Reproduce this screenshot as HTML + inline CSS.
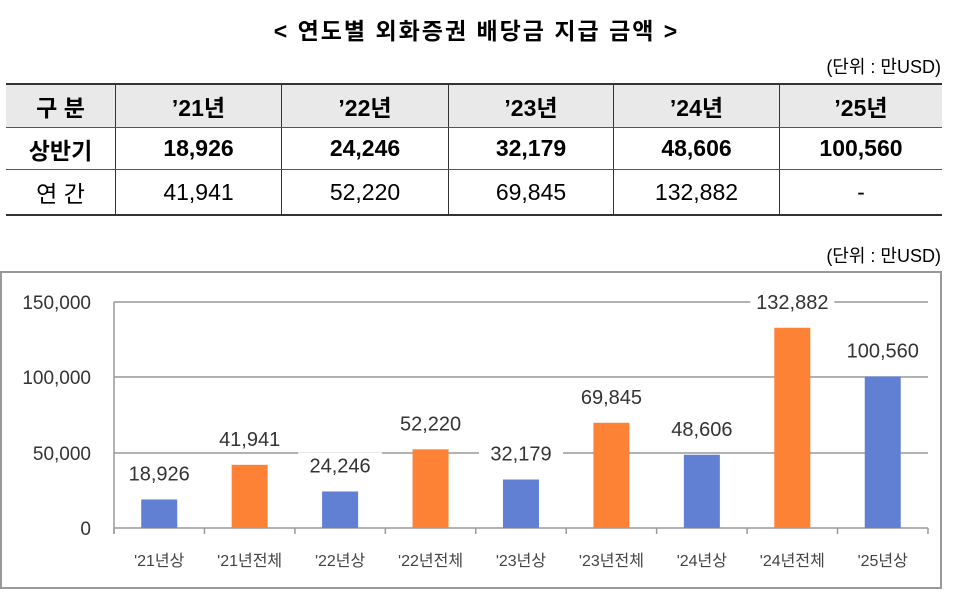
<!DOCTYPE html>
<html><head><meta charset="utf-8"><style>
body{margin:0;width:953px;height:600px;background:#fff;font-family:"Liberation Sans","Noto Sans CJK KR",sans-serif;position:relative;overflow:hidden}
.t{position:absolute;left:0;width:953px;top:12px;text-align:center;font-size:23px;font-weight:bold;letter-spacing:2px}
.u{position:absolute;right:12px;font-size:18px}
table{position:absolute;left:6px;top:83px;border-collapse:collapse;width:936px}
td{text-align:center;font-size:23px;border-left:1px solid #333;padding:0}
td:first-child{border-left:none}
tr.h td{background:#e9e9e9;font-weight:bold;height:42px;border-top:2px solid #333;border-bottom:1px solid #555}
tr.b td{font-weight:bold;height:41px;border-bottom:1px solid #555}
tr.n td{height:44px;border-bottom:2px solid #333}
</style></head><body>
<div class="t">&lt; 연도별 외화증권 배당금 지급 금액 &gt;</div>
<div class="u" style="top:53px">(단위 : 만USD)</div>
<table>
<tr class="h"><td style="width:109px">구 분</td><td style="width:165px">’21년</td><td style="width:166px">’22년</td><td style="width:164px">’23년</td><td style="width:165px">’24년</td><td>’25년</td></tr>
<tr class="b"><td>상반기</td><td>18,926</td><td>24,246</td><td>32,179</td><td>48,606</td><td>100,560</td></tr>
<tr class="n"><td>연 간</td><td>41,941</td><td>52,220</td><td>69,845</td><td>132,882</td><td>-</td></tr>
</table>
<div class="u" style="top:242px">(단위 : 만USD)</div>
<svg style="position:absolute;left:0;top:0" width="953" height="600" font-family="Liberation Sans,Noto Sans CJK KR,sans-serif">
<rect x="1" y="272" width="940" height="316" fill="#fff" stroke="#999" stroke-width="2"/>
<g stroke="#999" stroke-width="1.5">
<line x1="114" y1="302" x2="928" y2="302"/><line x1="114" y1="377" x2="928" y2="377"/><line x1="114" y1="453" x2="928" y2="453"/><line x1="114" y1="528" x2="928" y2="528"/>
<line x1="114" y1="302" x2="114" y2="534"/>
</g>
<g stroke="#999" stroke-width="1.5" id="ticks"></g>
<g font-size="19" fill="#333" text-anchor="end">
<text x="91" y="309">150,000</text><text x="91" y="384">100,000</text><text x="91" y="460">50,000</text><text x="91" y="535">0</text>
</g>
<g id="bars"></g>
</svg>
<script>
var d=[["'21년상",18926,0],["'21년전체",41941,1],["'22년상",24246,0],["'22년전체",52220,1],["'23년상",32179,0],["'23년전체",69845,1],["'24년상",48606,0],["'24년전체",132882,1],["'25년상",100560,0]];
var g=document.getElementById("bars"),tk=document.getElementById("ticks"),s="";
var t="";
for(var i=0;i<=9;i++){var x=114+i*90.44;t+='<line x1="'+x+'" y1="528" x2="'+x+'" y2="534"/>';}
tk.innerHTML=t;
d.forEach(function(r,i){var cx=114+90.44*(i+0.5),h=r[1]*226/150000,y=528-h;
var lab=r[1].toLocaleString("en-US");
s+='<rect x="'+(cx-18)+'" y="'+y+'" width="36" height="'+h+'" fill="'+(r[2]?"#fd8236":"#6180d4")+'"/>';
s+='<rect x="'+(cx-42)+'" y="'+(y-39)+'" width="84" height="25" fill="#fff"/>';
s+='<text x="'+cx+'" y="'+(y-19)+'" font-size="20" fill="#333" text-anchor="middle">'+lab+'</text>';
s+='<text x="'+cx+'" y="566" font-size="16" fill="#444" text-anchor="middle">'+r[0]+'</text>';});
g.innerHTML=s;
</script>
</body></html>
